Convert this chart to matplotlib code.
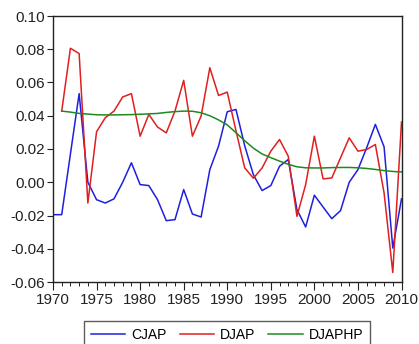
import matplotlib
matplotlib.use("Agg")
import matplotlib.pyplot as plt
from matplotlib.ticker import MultipleLocator

plt.rcParams['font.family'] = ['Liberation Sans', 'DejaVu Sans']

# data
years = list(range(1970, 2011))
cjap = [-0.0195, -0.0195, 0.017, 0.0533, 0.0, -0.0105, -0.0125, -0.010, 0.0, 0.0117,
        -0.0014, -0.002, -0.0105, -0.0231, -0.0225, -0.0044, -0.0191, -0.0209, 0.0076, 0.0217,
        0.0424, 0.0438, 0.022, 0.0045, -0.005, -0.002, 0.0096, 0.0137, -0.0165, -0.0269,
        -0.0078, -0.0149, -0.0219, -0.0171, 0.0, 0.0076, 0.0207, 0.0348, 0.0213, -0.0396,
        -0.010]
djap = [None, 0.0428, 0.0806, 0.0774, -0.0125, 0.0304, 0.0388, 0.0428, 0.0513, 0.0533,
        0.0277, 0.0408, 0.0332, 0.0297, 0.0428, 0.0613, 0.0277, 0.0398, 0.0689, 0.0522,
        0.0542, 0.031, 0.0087, 0.0024, 0.0086, 0.0187, 0.0257, 0.0157, -0.0205, -0.0014,
        0.0277, 0.002, 0.0026, 0.0147, 0.0267, 0.0187, 0.0197, 0.0227, -0.0064, -0.0543,
        0.0362]
djaphp = [None, 0.0428, 0.0422, 0.0414, 0.0410, 0.0406, 0.0405, 0.0405, 0.0406, 0.0407,
          0.0409, 0.0411, 0.0414, 0.0420, 0.0425, 0.0428, 0.0427, 0.0418, 0.0400, 0.0375,
          0.0345, 0.0298, 0.0250, 0.0205, 0.0170, 0.0148, 0.0127, 0.0108, 0.0093, 0.0087,
          0.0086, 0.0086, 0.0088, 0.0089, 0.0089, 0.0087, 0.0083, 0.0077, 0.0070, 0.0065,
          0.0062]

fig = plt.figure(figsize=(4.19, 3.44), dpi=100)
ax = fig.add_axes([53 / 419, 1 - 282 / 344, (401.5 - 53) / 419, (282 - 16) / 344])

ax.plot(years, cjap, color='#1f1fdf', lw=1.1, label='CJAP')
ax.plot(years, djap, color='#e01f1f', lw=1.1, label='DJAP')
ax.plot(years, djaphp, color='#1f8a1f', lw=1.1, label='DJAPHP')

ax.set_xlim(1970, 2010)
ax.set_ylim(-0.06, 0.10)
ax.xaxis.set_major_locator(MultipleLocator(5))
ax.xaxis.set_minor_locator(MultipleLocator(1))
ax.yaxis.set_major_locator(MultipleLocator(0.02))
ax.yaxis.set_major_formatter(matplotlib.ticker.FormatStrFormatter('%.2f'))
ax.tick_params(axis='both', labelsize=11, direction='out', width=0.8, colors='#222222', pad=2)
ax.tick_params(axis='x', which='major', length=6)
ax.tick_params(axis='x', which='minor', length=3)
ax.tick_params(axis='y', length=4)
ax.tick_params(top=False, right=False)
for s in ax.spines.values():
    s.set_color('#222222')
    s.set_linewidth(1.0)

# legend box sits low, its bottom edge runs off the figure
leg = fig.legend(loc='upper center', bbox_to_anchor=(227 / 419, 1 - 321 / 344), ncol=3,
                 frameon=True, fancybox=False, edgecolor='#333333', fontsize=10,
                 handlelength=2.5, columnspacing=0.95, handletextpad=0.4,
                 borderpad=0.5, borderaxespad=0)
leg.get_frame().set_linewidth(1.0)

fig.savefig('out.png', dpi=100)
